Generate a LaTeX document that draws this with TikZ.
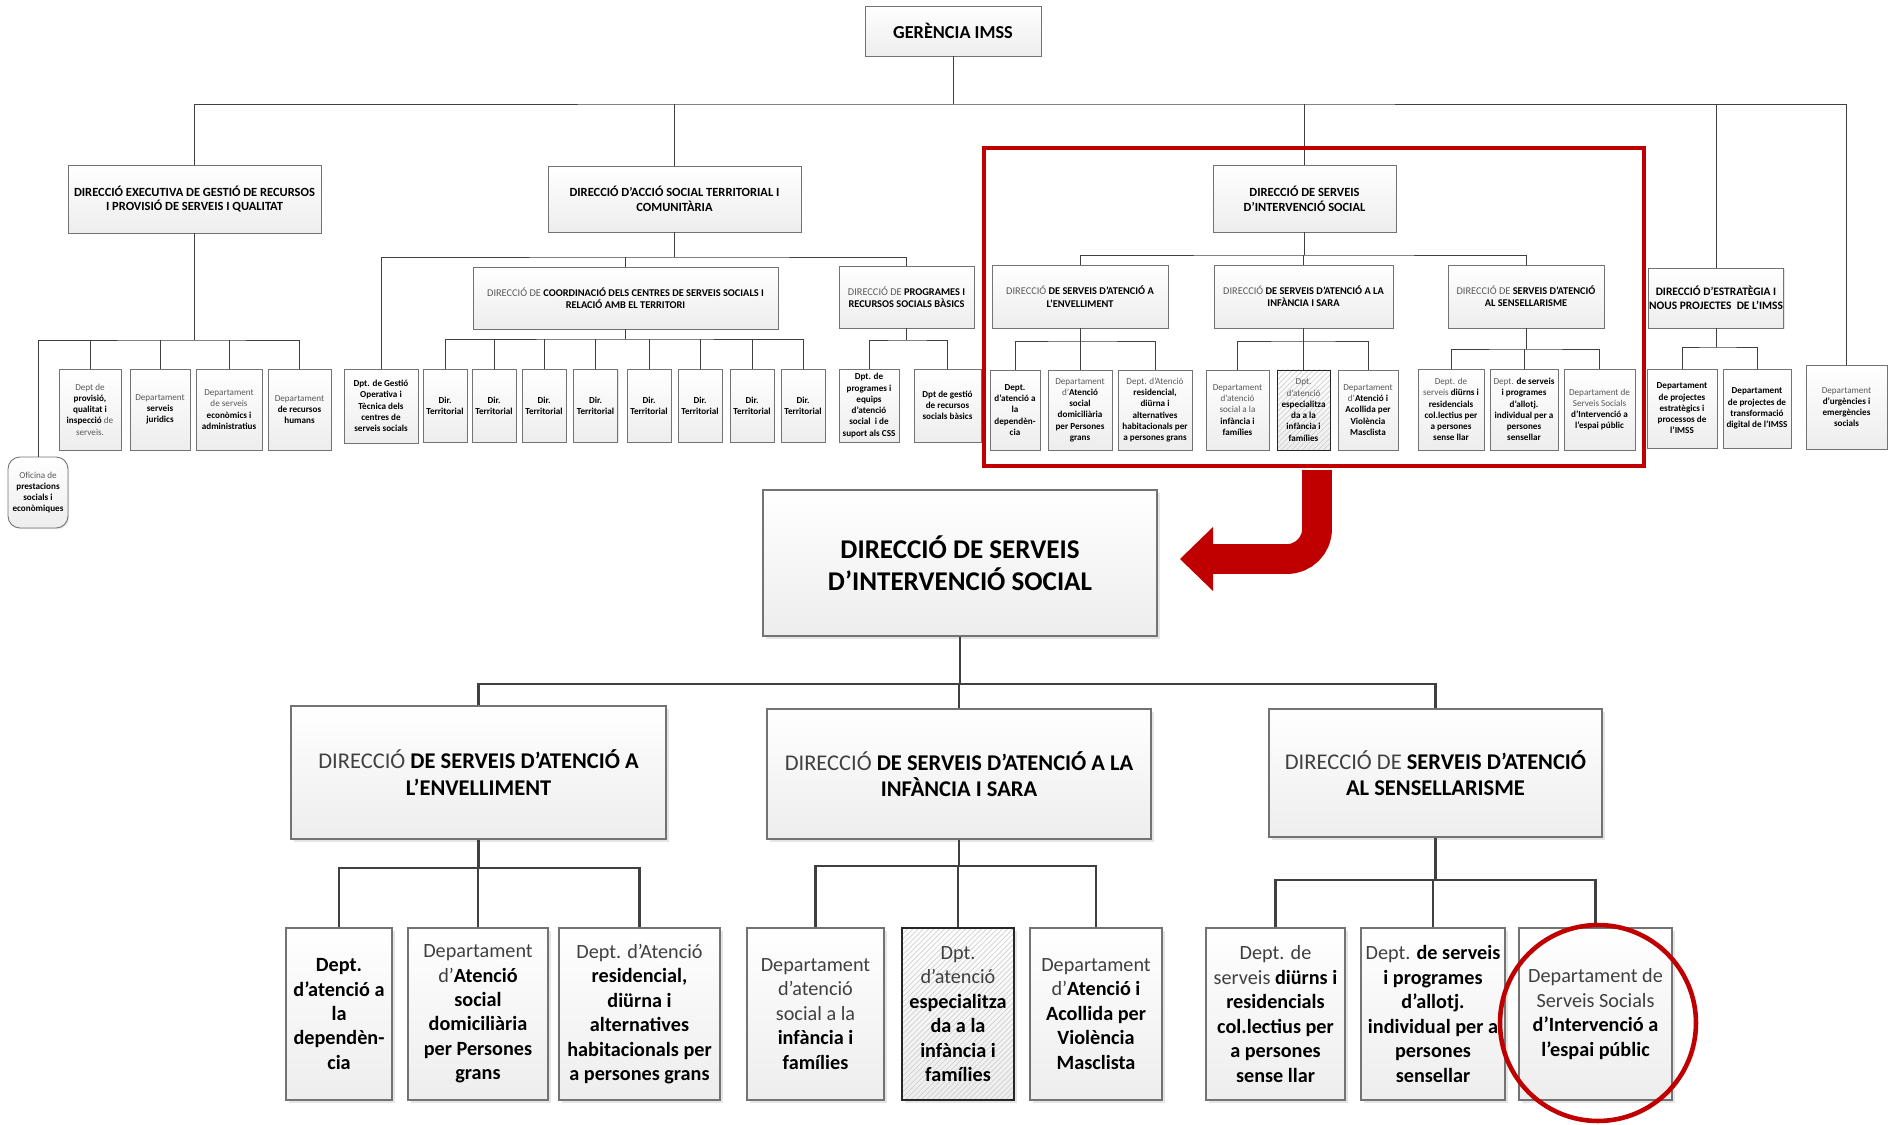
\documentclass[tikz,border=0pt]{standalone}
\usepackage{fontspec}
\setmainfont{Carlito}
\usetikzlibrary{positioning,shadows,patterns}
\definecolor{imssred}{HTML}{C00000}
\newcommand{\pu}{0.02cm}
\newcommand{\bt}[1]{{\bfseries\color{black}#1}}
\tikzset{
  box/.style={rectangle, draw=black!55, line width=0.5pt, top color=white, bottom color=black!7, align=center, text=black!65, inner sep=0.5pt, drop shadow={shadow xshift=0.7pt, shadow yshift=-0.7pt, opacity=0.2}},
  sz/.style 2 args={minimum width=#1*\pu, minimum height=#2*\pu},
  hd/.style={box, text=black, font=\fontsize{7.1}{8.4}\selectfont\bfseries},
  sd/.style={box, font=\fontsize{5.9}{7}\selectfont},
  dp/.style={box, font=\fontsize{5.2}{6.4}\selectfont},
  dpb/.style={dp, text=black, font=\fontsize{5.2}{6.4}\selectfont\bfseries},
  big/.style={box, line width=1pt, text=black, font=\fontsize{15.4}{18}\selectfont\bfseries, drop shadow={shadow xshift=1.5pt, shadow yshift=-1.5pt, opacity=0.2}},
  bsd/.style={big, text=black!75, font=\fontsize{12.8}{15.1}\selectfont},
  bdp/.style={big, text=black!75, font=\fontsize{11.5}{13.9}\selectfont},
  hatch/.style={postaction={pattern=north east lines, pattern color=black!18}, postaction={draw=black!85}},
  ln/.style={draw=black!75, line width=0.5pt},
  bln/.style={draw=black!75, line width=1.4pt},
  redline/.style={draw=imssred, line width=2.8pt}
}
\begin{document}
\begin{tikzpicture}[x=0.02cm, y=-0.02cm]
\path[use as bounding box, fill=white] (0,0) rectangle (1898,1125);

\node[hd, sz={176}{50}, font=\fontsize{10.4}{12}\selectfont\bfseries] (ger) at (953,31) {GERÈNCIA IMSS};
\node[hd, sz={253}{68}] (exe) at (194.5,199) {DIRECCIÓ EXECUTIVA DE GESTIÓ DE RECURSOS\\I PROVISIÓ DE SERVEIS I QUALITAT};
\node[hd, sz={253}{66}] (acc) at (674.5,199) {DIRECCIÓ D’ACCIÓ SOCIAL TERRITORIAL I\\COMUNITÀRIA};
\node[hd, sz={183}{67}] (dis) at (1304.5,198.5) {DIRECCIÓ DE SERVEIS\\D’INTERVENCIÓ SOCIAL};
\node[hd, sz={134}{60}, font=\fontsize{6.5}{8}\selectfont\bfseries] (est) at (1716,298) {DIRECCIÓ D’ESTRATÈGIA I\\NOUS PROJECTES \ DE L’IMSS};
\node[dp, sz={81}{84}] (urg) at (1846.5,407) {Departament\\\bt{d’urgències i}\\\bt{emergències}\\\bt{socials}};

\node[dp, sz={62}{81}] (prov) at (90,409.5) {Dept de\\\bt{provisió,}\\\bt{qualitat i}\\\bt{inspecció} de\\serveis.};
\node[dp, sz={60}{81}] (jur) at (160,409.5) {Departament\\\bt{serveis}\\\bt{juridics}};
\node[dp, sz={66}{81}] (eco) at (229,409.5) {Departament\\de serveis\\\bt{econòmics i}\\\bt{administratius}};
\node[dp, sz={63}{81}] (rh) at (299.5,409.5) {Departament\\\bt{de recursos}\\\bt{humans}};
\node[dp, sz={60}{71}, rounded corners=0.24cm] (ofi) at (38,492.5) {Oficina de\\\bt{prestacions}\\\bt{socials i}\\\bt{econòmiques}};

\node[dpb, sz={74}{74}] (gest) at (381,406) {Dpt. de Gestió\\Operativa i\\Tècnica dels\\centres de\\serveis socials};
\node[sd, sz={305}{62}] (coord) at (625.5,298) {DIRECCIÓ DE \bt{COORDINACIÓ DELS CENTRES DE SERVEIS SOCIALS I}\\\bt{RELACIÓ AMB EL TERRITORI}};
\node[sd, sz={135}{62}] (prog) at (906.5,297) {DIRECCIÓ DE \bt{PROGRAMES I}\\\bt{RECURSOS SOCIALS BÀSICS}};
\foreach \n/\x in {1/445,2/494,3/544,4/595.5,5/649,6/700,7/752,8/803}
  \node[dpb, sz={44}{73}] (t\n) at (\x,405.5) {Dir.\\Territorial};
\node[dpb, sz={60}{73}] (peq) at (869,405.5) {Dpt. de\\programes i\\equips\\d’atenció\\social \ i de\\suport als CSS};
\node[dpb, sz={67}{73}] (pgr) at (947.5,405.5) {Dpt de gestió\\de recursos\\socials bàsics};

\node[sd, sz={176}{63}] (denv) at (1080,296.5) {DIRECCIÓ \bt{DE SERVEIS D’ATENCIÓ A}\\\bt{L’ENVELLIMENT}};
\node[sd, sz={179}{63}] (dinf) at (1303.5,296.5) {DIRECCIÓ \bt{DE SERVEIS D’ATENCIÓ A LA}\\\bt{INFÀNCIA I SARA}};
\node[sd, sz={156}{63}] (dsen) at (1526,296.5) {DIRECCIÓ DE \bt{SERVEIS D’ATENCIÓ}\\\bt{AL SENSELLARISME}};
\node[dpb, sz={50}{80}] (e1) at (1015,410) {Dept.\\d’atenció a\\la\\dependèn-\\cia};
\node[dp, sz={64}{80}] (e2) at (1080,410) {Departament\\d’\bt{Atenció}\\\bt{social}\\\bt{domiciliària}\\\bt{per Persones}\\\bt{grans}};
\node[dp, sz={74}{80}] (e3) at (1155,410) {Dept. d’Atenció\\\bt{residencial,}\\\bt{diürna i}\\\bt{alternatives}\\\bt{habitacionals per}\\\bt{a persones grans}};
\node[dp, sz={63}{80}] (i1) at (1237.5,410) {Departament\\d’atenció\\social a la\\\bt{infància i}\\\bt{famílies}};
\node[dp, hatch, sz={53}{80}] (i2) at (1303.5,410) {Dpt.\\d’atenció\\\bt{especialitza}\\\bt{da a la}\\\bt{infància i}\\\bt{famílies}};
\node[dp, sz={60}{80}] (i3) at (1368,410) {Departament\\d’\bt{Atenció i}\\\bt{Acollida per}\\\bt{Violència}\\\bt{Masclista}};
\node[dp, sz={66}{81}] (s1) at (1451,409.5) {Dept. de\\serveis \bt{diürns i}\\\bt{residencials}\\\bt{col.lectius per}\\\bt{a persones}\\\bt{sense llar}};
\node[dp, sz={68}{81}] (s2) at (1524,409.5) {Dept. \bt{de serveis}\\\bt{i programes}\\\bt{d’allotj.}\\\bt{individual per a}\\\bt{persones}\\\bt{sensellar}};
\node[dp, sz={71}{81}] (s3) at (1599.5,409.5) {Departament de\\Serveis Socials\\\bt{d’Intervenció a}\\\bt{l’espai públic}};

\node[dpb, sz={70}{79}] (ep1) at (1682,408.5) {Departament\\de projectes\\estratègics i\\processos de\\l’IMSS};
\node[dpb, sz={68}{79}] (ep2) at (1757,408.5) {Departament\\de projectes de\\transformació\\digital de l’IMSS};

\coordinate (tb) at (953,104);
\draw[ln] (ger.south) -- (tb);
\draw[ln] (exe.north) |- (tb) -| (urg.north);
\foreach \n in {acc,dis,est}
  \draw[ln] (\n.north) -- (\n.north |- tb);

\coordinate (eb) at (194.5,340);
\draw[ln] (exe.south) -- (eb);
\draw[ln] (ofi.north) |- (eb) -| (rh.north);
\foreach \n in {prov,jur,eco}
  \draw[ln] (\n.north) -- (\n.north |- eb);

\coordinate (ab) at (674.5,257);
\draw[ln] (acc.south) -- (ab);
\draw[ln] (gest.north) |- (ab) -| (prog.north);
\draw[ln] (coord.north) -- (coord.north |- ab);
\coordinate (cb) at (625.5,339);
\draw[ln] (coord.south) -- (cb);
\draw[ln] (t1.north) |- (cb) -| (t8.north);
\foreach \n in {2,...,7}
  \draw[ln] (t\n.north) -- (t\n.north |- cb);
\coordinate (pb) at (906.5,340);
\draw[ln] (prog.south) -- (pb);
\draw[ln] (peq.north) |- (pb) -| (pgr.north);

\coordinate (db) at (1304.5,255);
\draw[ln] (dis.south) -- (db);
\draw[ln] (denv.north) |- (db) -| (dsen.north);
\draw[ln] (dinf.north) -- (dinf.north |- db);
\coordinate (enb) at (1080,341);
\draw[ln] (denv.south) -- (enb);
\draw[ln] (e1.north) |- (enb) -| (e3.north);
\draw[ln] (e2.north) -- (enb);
\coordinate (inb) at (1303.5,341);
\draw[ln] (dinf.south) -- (inb);
\draw[ln] (i1.north) |- (inb) -| (i3.north);
\draw[ln] (i2.north) -- (inb);
\coordinate (snb) at (1526,349);
\draw[ln] (dsen.south) -- (snb);
\draw[ln] (s1.north) |- (snb) -| (s3.north);
\draw[ln] (s2.north) -- (s2.north |- snb);
\coordinate (esb) at (1716,347);
\draw[ln] (est.south) -- (esb);
\draw[ln] (ep1.north) |- (esb) -| (ep2.north);

\draw[redline] (984,148) rectangle (1644,466);

\node[big, sz={394}{146}] (big) at (960,563) {DIRECCIÓ DE SERVEIS\\D’INTERVENCIÓ SOCIAL};
\node[bsd, sz={375}{133}] (benv) at (478.5,772.5) {DIRECCIÓ \bt{DE SERVEIS D’ATENCIÓ A}\\\bt{L’ENVELLIMENT}};
\node[bsd, sz={384}{130}] (binf) at (959,774) {DIRECCIÓ \bt{DE SERVEIS D’ATENCIÓ A LA}\\\bt{INFÀNCIA I SARA}};
\node[bsd, sz={333}{128}] (bsen) at (1435.5,773) {DIRECCIÓ DE \bt{SERVEIS D’ATENCIÓ}\\\bt{AL SENSELLARISME}};

\node[bdp, sz={106}{172}, text=black, font=\fontsize{11.5}{13.9}\selectfont\bfseries] (b1) at (339,1014) {Dept.\\d’atenció a\\la\\dependèn-\\cia};
\node[bdp, sz={140}{172}] (b2) at (478,1014) {Departament\\d’\bt{Atenció}\\\bt{social}\\\bt{domiciliària}\\\bt{per Persones}\\\bt{grans}};
\node[bdp, sz={161}{172}] (b3) at (639.5,1014) {Dept. d’Atenció\\\bt{residencial,}\\\bt{diürna i}\\\bt{alternatives}\\\bt{habitacionals per}\\\bt{a persones grans}};
\node[bdp, sz={137}{172}] (b4) at (815.5,1014) {Departament\\d’atenció\\social a la\\\bt{infància i}\\\bt{famílies}};
\node[bdp, hatch, sz={112}{172}] (b5) at (958,1014) {Dpt.\\d’atenció\\\bt{especialitza}\\\bt{da a la}\\\bt{infància i}\\\bt{famílies}};
\node[bdp, sz={132}{172}] (b6) at (1096,1014) {Departament\\d’\bt{Atenció i}\\\bt{Acollida per}\\\bt{Violència}\\\bt{Masclista}};
\node[bdp, sz={139}{172}] (b7) at (1275.5,1014) {Dept. de\\serveis \bt{diürns i}\\\bt{residencials}\\\bt{col.lectius per}\\\bt{a persones}\\\bt{sense llar}};
\node[bdp, sz={144}{172}] (b8) at (1433,1014) {Dept. \bt{de serveis}\\\bt{i programes}\\\bt{d’allotj.}\\\bt{individual per a}\\\bt{persones}\\\bt{sensellar}};
\node[bdp, sz={153}{172}] (b9) at (1595.5,1014) {Departament de\\Serveis Socials\\\bt{d’Intervenció a}\\\bt{l’espai públic}};

\coordinate (bb) at (960,684);
\draw[bln] (big.south) -- (bb);
\draw[bln] (benv.north) |- (bb) -| (bsen.north);
\draw[bln] (binf.north) -- (binf.north |- bb);
\coordinate (bnb) at (478.5,868);
\draw[bln] (benv.south) -- (bnb);
\draw[bln] (b1.north) |- (bnb) -| (b3.north);
\draw[bln] (b2.north) -- (b2.north |- bnb);
\coordinate (bib) at (959,866);
\draw[bln] (binf.south) -- (bib);
\draw[bln] (b4.north) |- (bib) -| (b6.north);
\draw[bln] (b5.north) -- (b5.north |- bib);
\coordinate (bsb) at (1435.5,880);
\draw[bln] (bsen.south) -- (bsb);
\draw[bln] (b7.north) |- (bsb) -| (b9.north);
\draw[bln] (b8.north) -- (b8.north |- bsb);

\coordinate (as) at (1317,470);
\coordinate (ae) at (1212,559);
\draw[draw=imssred, line width=17pt, rounded corners=0.6cm] (as) |- (ae);
\fill[imssred] (1213,527) -- (1180,559) -- (1213,591) -- cycle;
\draw[redline, line width=2.6pt] (b9.center) ++(2.5,9) circle[radius=1.96cm];
\end{tikzpicture}
\end{document}
